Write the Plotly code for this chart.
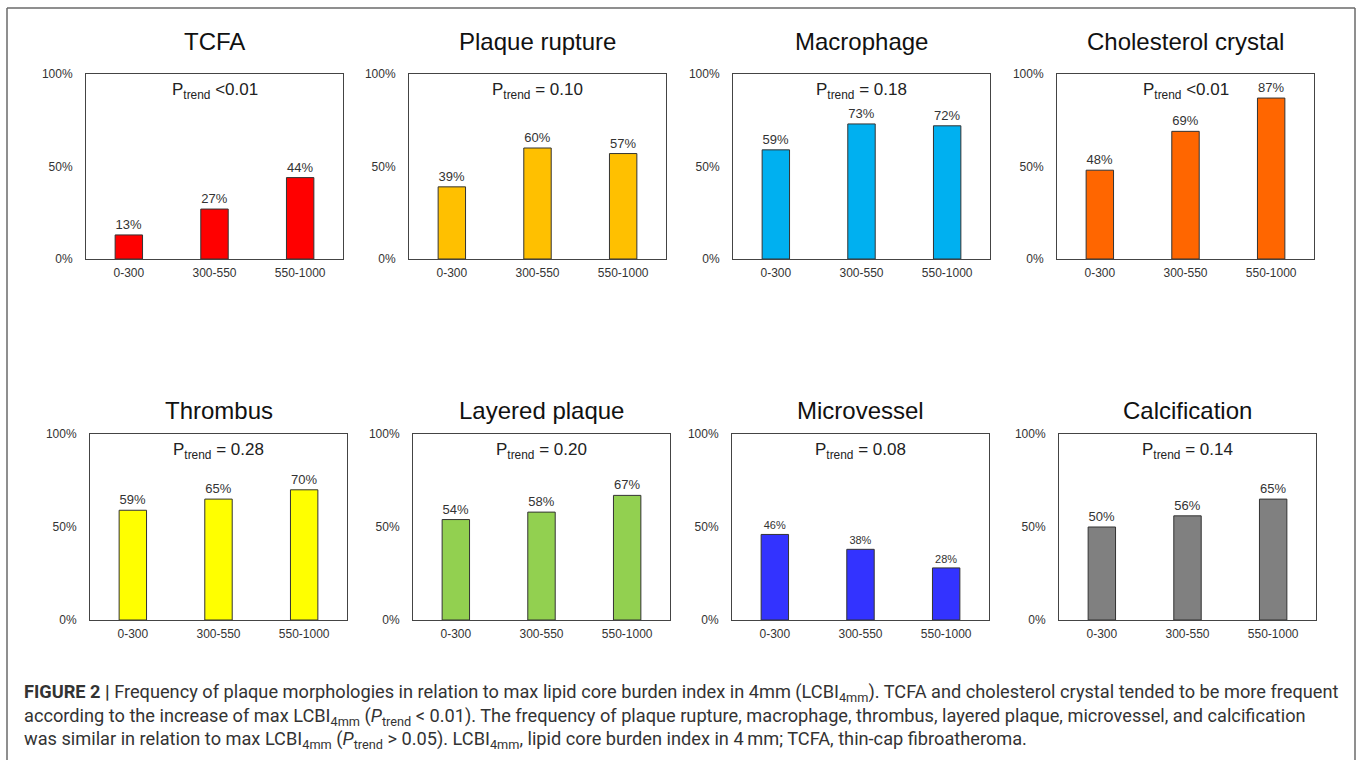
import plotly.graph_objects as go

# ---------------- data ----------------
categories = ["0-300", "300-550", "550-1000"]
panel_titles = ["TCFA", "Plaque rupture", "Macrophage", "Cholesterol crystal",
                "Thrombus", "Layered plaque", "Microvessel", "Calcification"]
tcfa = [13, 27, 44]
plaque_rupture = [39, 60, 57]
macrophage = [59, 73, 72]
cholesterol_crystal = [48, 69, 87]
thrombus = [59, 65, 70]
layered_plaque = [54, 58, 67]
microvessel = [46, 38, 28]
calcification = [50, 56, 65]
p_trend = ["<0.01", "= 0.10", "= 0.18", "<0.01", "= 0.28", "= 0.20", "= 0.08", "= 0.14"]
y_ticks = [0, 50, 100]
y_tick_labels = ["0%", "50%", "100%"]

series = [tcfa, plaque_rupture, macrophage, cholesterol_crystal,
          thrombus, layered_plaque, microvessel, calcification]

# ---------------- style / layout ----------------
colors = ["#FF0000", "#FFC000", "#00B0F0", "#FF6600",
          "#FFFF00", "#92D050", "#3333FF", "#808080"]
W, H = 1358, 760
lefts = [86, 409, 733, 1057, 90, 413, 732, 1059]
plot_w = 257
tops = [74, 74, 74, 74, 434, 434, 434, 434]
bottoms = [259, 259, 259, 259, 620, 620, 620, 620]
title_y = [42, 42, 42, 42, 410, 410, 410, 410]
label_sizes = [13, 13, 13, 13, 13, 13, 11, 13]
FONT = "Liberation Sans, Arial, sans-serif"

def px(x):
    return x / W

def py(y):
    return 1 - y / H

fig = go.Figure()
layout = dict(
    template="none",
    width=W, height=H, autosize=False,
    margin=dict(l=0, r=0, t=0, b=0, pad=0, autoexpand=False),
    paper_bgcolor="white", plot_bgcolor="white",
    showlegend=False,
    font=dict(family=FONT, color="#333333"),
    bargap=0.68,
)
annotations = []
for i in range(8):
    n = i + 1
    xa = "x" if n == 1 else f"x{n}"
    ya = "y" if n == 1 else f"y{n}"
    fig.add_trace(go.Bar(
        x=categories, y=series[i], xaxis=xa, yaxis=ya,
        marker=dict(color=colors[i], line=dict(color="#333333", width=1)),
        text=[f"{v}%" for v in series[i]], texttemplate="%{text}",
        textposition="outside", cliponaxis=False,
        textfont=dict(family=FONT, size=label_sizes[i], color="#333333"),
        hoverinfo="skip",
    ))
    xdom = [px(lefts[i]), px(lefts[i] + plot_w)]
    ydom = [py(bottoms[i]), py(tops[i])]
    layout["xaxis" if n == 1 else f"xaxis{n}"] = dict(
        domain=xdom, anchor=ya, showgrid=False, zeroline=False, automargin=False,
        showline=True, linecolor="#444444", linewidth=1, mirror=True,
        ticks="", tickfont=dict(family=FONT, size=12, color="#333333"),
        ticklabelstandoff=3, fixedrange=True,
    )
    layout["yaxis" if n == 1 else f"yaxis{n}"] = dict(
        domain=ydom, anchor=xa, range=[0, 100], showgrid=False, zeroline=False,
        automargin=False,
        showline=True, linecolor="#444444", linewidth=1, mirror=True,
        tickvals=y_ticks, ticktext=y_tick_labels, ticks="",
        tickfont=dict(family=FONT, size=12, color="#333333"), ticklabelstandoff=10,
        fixedrange=True,
    )
    cx = px(lefts[i] + plot_w / 2)
    annotations.append(dict(
        x=cx, y=py(title_y[i]), xref="paper", yref="paper",
        text=panel_titles[i], showarrow=False, xanchor="center", yanchor="middle",
        font=dict(family=FONT, size=24, color="#111111"),
    ))
    annotations.append(dict(
        x=cx, y=py(tops[i] + 17), xref="paper", yref="paper",
        text=f"P<sub>trend</sub> {p_trend[i]}", showarrow=False,
        xanchor="center", yanchor="middle",
        font=dict(family=FONT, size=17, color="#222222"),
    ))

caption_lines = [
    "<b>FIGURE 2 |</b> Frequency of plaque morphologies in relation to max lipid core burden index in 4mm (LCBI<sub>4mm</sub>). "
    "TCFA and cholesterol crystal tended to be more frequent",
    "according to the increase of max LCBI<sub>4mm</sub> (<i>P</i><sub>trend</sub> &lt; 0.01). The frequency of plaque rupture, "
    "macrophage, thrombus, layered plaque, microvessel, and calcification",
    "was similar in relation to max LCBI<sub>4mm</sub> (<i>P</i><sub>trend</sub> &gt; 0.05). LCBI<sub>4mm</sub>, "
    "lipid core burden index in 4\u2009mm; TCFA, thin-cap fibroatheroma.",
]
caption_y = [693, 717, 740]
for line, yy in zip(caption_lines, caption_y):
    annotations.append(dict(
        x=px(22), y=py(yy), xref="paper", yref="paper", text=line,
        showarrow=False, xanchor="left", yanchor="middle",
        font=dict(family="Roboto, sans-serif", size=18.2, color="#333333"),
    ))
layout["annotations"] = annotations

border = dict(color="#6a6a6a", width=1.5)
layout["shapes"] = [
    dict(type="line", xref="paper", yref="paper", x0=px(7), x1=px(7), y0=py(8), y1=0,
         line=border),
    dict(type="line", xref="paper", yref="paper", x0=px(7), x1=px(1355), y0=py(8), y1=py(8),
         line=border),
    dict(type="line", xref="paper", yref="paper", x0=px(1355), x1=px(1355), y0=py(8), y1=0,
         line=border),
]

fig.update_layout(**layout)
fig.write_html(
    "out.html",
    config={"displayModeBar": False},
    post_script="document.body.style.margin='0';document.body.style.overflow='hidden';",
)
